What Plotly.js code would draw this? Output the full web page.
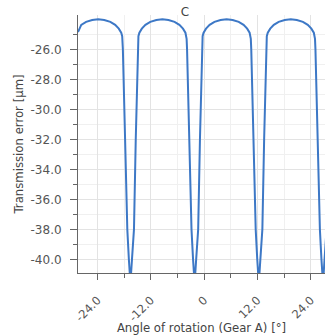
<!DOCTYPE html>
<html>
<head>
<meta charset="utf-8">
<script src="https://cdn.plot.ly/plotly-3.0.1.min.js"></script>
<style>html,body{margin:0;padding:0;background:#fff;}#chart{width:325px;height:335px;}</style>
</head>
<body>
<div id="chart"></div>
<script>
// Angle of rotation (Gear A) [°]
const angle = [
  -28.4, -27.67, -26.58, -25.21, -23.85, -22.49, -21.12, -20.03, -19.22, -18.67, -18.45, -18.4, -18.3, -17.8, -17.3, -16.95, -16.6,
  -16.25, -15.8, -15.4, -14.95, -14.85, -14.8, -14.58, -14.03, -13.22, -12.13, -10.76, -9.4, -8.04, -6.67, -5.58, -4.77, -4.22, -4.0, -3.95, -3.85, -3.35, -2.85, -2.5, -2.15,
  -1.8, -1.35, -0.95, -0.5, -0.4, -0.35, -0.13, 0.42, 1.23, 2.32, 3.69, 5.05, 6.41, 7.78, 8.87, 9.68, 10.23, 10.45, 10.5, 10.6, 11.1, 11.6, 11.95, 12.3,
  12.65, 13.1, 13.5, 13.95, 14.05, 14.1, 14.32, 14.87, 15.68, 16.77, 18.14, 19.5, 20.86, 22.23, 23.32, 24.13, 24.68, 24.9, 24.95, 25.05, 25.55, 26.05, 26.4, 26.75,
  27.1, 27.55
];
// Transmission error [µm]
const transmissionError = [
  -24.85, -24.37, -24.17, -24.04, -24.0, -24.04, -24.17, -24.37, -24.62, -24.89, -25.12, -25.3, -26, -32, -38, -40, -41.6,
  -40, -38, -32, -26, -25.3, -25.12, -24.89, -24.62, -24.37, -24.17, -24.04, -24.0, -24.04, -24.17, -24.37, -24.62, -24.89, -25.12, -25.3, -26, -32, -38, -40, -41.6,
  -40, -38, -32, -26, -25.3, -25.12, -24.89, -24.62, -24.37, -24.17, -24.04, -24.0, -24.04, -24.17, -24.37, -24.62, -24.89, -25.12, -25.3, -26, -32, -38, -40, -41.6,
  -40, -38, -32, -26, -25.3, -25.12, -24.89, -24.62, -24.37, -24.17, -24.04, -24.0, -24.04, -24.17, -24.37, -24.62, -24.89, -25.12, -25.3, -26, -32, -38, -40, -41.6,
  -40, -38
];

const xTickVals = [-24, -12, 0, 12, 24];
const xTickText = ["-24.0", "-12.0", "0", "12.0", "24.0"];
const xMinorVals = [-18, -6, 6, 18];
const yTickVals = [-40, -38, -36, -34, -32, -30, -28, -26];
const yTickText = ["-40.0", "-38.0", "-36.0", "-34.0", "-32.0", "-30.0", "-28.0", "-26.0"];
const yMinorVals = [-41, -39, -37, -35, -33, -31, -29, -27, -25];

const chartTitle = "C";
const xTitle = "Angle of rotation (Gear A) [°]";
const yTitle = "Transmission error [µm]";

const fontFam = "DejaVu Sans, sans-serif";

const trace = {
  x: angle,
  y: transmissionError,
  type: "scatter",
  mode: "lines",
  line: {color: "#3d78c6", width: 2},
  hoverinfo: "skip"
};

const layout = {
  width: 325,
  height: 335,
  margin: {l: 78, r: 0, t: 15, b: 62},
  paper_bgcolor: "#ffffff",
  plot_bgcolor: "#ffffff",
  showlegend: false,
  font: {family: fontFam, size: 11, color: "#555555"},
  title: {
    text: chartTitle,
    font: {family: fontFam, size: 12, color: "#444444"},
    xref: "paper",
    x: (185 - 78) / 247,
    xanchor: "center",
    yref: "container",
    y: 1 - 12 / 335,
    yanchor: "middle"
  },
  xaxis: {
    range: [-28.4, 27.2],
    tickmode: "array",
    tickvals: xTickVals,
    ticktext: xTickText,
    tickangle: -45,
    ticks: "outside",
    ticklen: 6,
    tickcolor: "#666666",
    ticklabelstandoff: 9,
    tickfont: {family: fontFam, size: 11.5, color: "#555555"},
    showline: true,
    linecolor: "#666666",
    linewidth: 1,
    showgrid: true,
    gridcolor: "#e3e3e3",
    zeroline: false,
    minor: {tickvals: xMinorVals, ticks: "outside", ticklen: 4, tickcolor: "#666666", showgrid: true, gridcolor: "#f0f0f0"},
    title: {text: xTitle, font: {family: fontFam, size: 11.7, color: "#444444"}, standoff: 5},
    automargin: false,
    fixedrange: true
  },
  yaxis: {
    range: [-40.91, -23.71],
    tickmode: "array",
    tickvals: yTickVals,
    ticktext: yTickText,
    ticks: "outside",
    ticklen: 7,
    tickcolor: "#666666",
    ticklabelstandoff: 6,
    tickfont: {family: fontFam, size: 12, color: "#555555"},
    showline: true,
    linecolor: "#666666",
    linewidth: 1,
    showgrid: true,
    gridcolor: "#e3e3e3",
    zeroline: false,
    minor: {tickvals: yMinorVals, ticks: "outside", ticklen: 4, tickcolor: "#666666", showgrid: true, gridcolor: "#f0f0f0"},
    title: {text: yTitle, font: {family: fontFam, size: 11.7, color: "#444444"}, standoff: 4},
    automargin: false,
    fixedrange: true
  }
};

Plotly.newPlot("chart", [trace], layout, {displayModeBar: false, staticPlot: true});
</script>
</body>
</html>
